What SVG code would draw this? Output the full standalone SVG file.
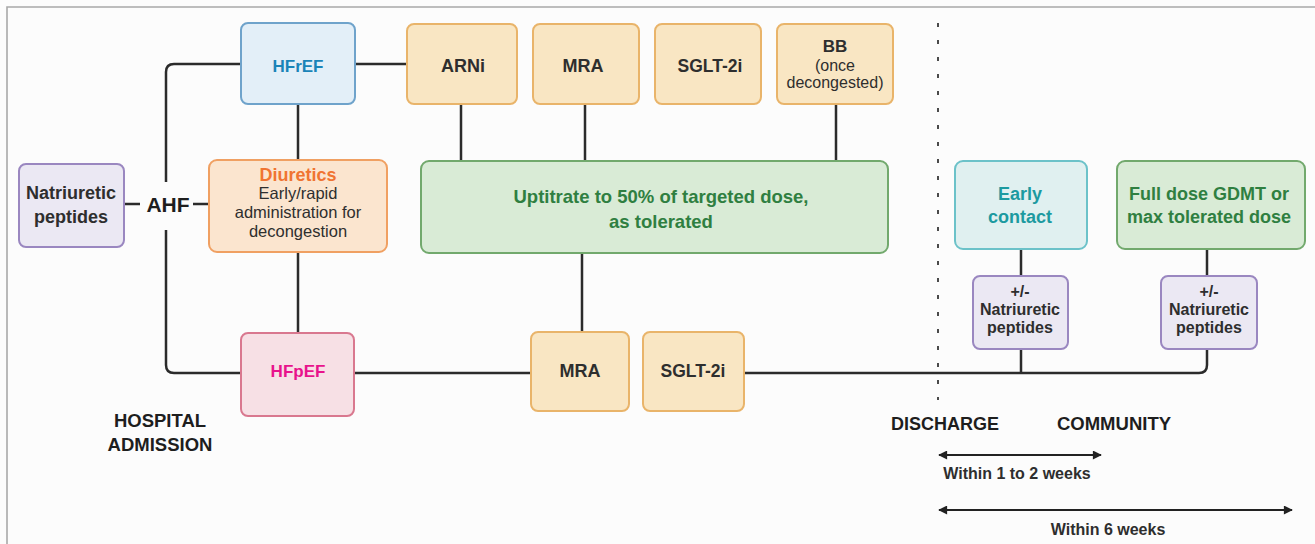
<svg xmlns="http://www.w3.org/2000/svg" width="1315" height="544" viewBox="0 0 1315 544">
  <defs>
    <style>
      text { font-family: "Liberation Sans", Arial, sans-serif; text-anchor: middle; }
      .t { fill: #2e2e2e; font-weight: bold; }
      .r { fill: #2e2e2e; font-weight: normal; }
      .b { fill: #1e1e1e; font-weight: bold; }
      .box { stroke-width: 2; }
      .drug { fill: #f9e6c3; stroke: #e9b46a; }
      .np { fill: #ebe8f3; stroke: #9a87c0; }
      .green { fill: #2f7f41; font-weight: bold; }
      .link { fill: none; stroke: #2b2b2b; stroke-width: 2.5; }
    </style>
    <marker id="ah" viewBox="0 0 10 10" refX="9" refY="5" markerWidth="5" markerHeight="4.5" orient="auto-start-reverse">
      <path d="M0,0 L10,5 L0,10 z" fill="#222"/>
    </marker>
  </defs>

  <!-- page -->
  <rect x="0" y="0" width="1315" height="544" fill="#fcfcfc"/>
  <path d="M7,544 V7 H1315" fill="none" stroke="#a8a8a8" stroke-width="1.6"/>

  <!-- connectors -->
  <g id="connectors">
    <path class="link" d="M241,64 H174 Q166,64 166,72 V182"/>
    <path class="link" d="M166,230 V365 Q166,373 174,373 H241"/>
    <path class="link" d="M124,204 H140"/>
    <path class="link" d="M193,204 H209"/>
    <path class="link" d="M355,64 H407"/>
    <path class="link" d="M298,104 V160"/>
    <path class="link" d="M298,252 V333"/>
    <path class="link" d="M461,104 V161"/>
    <path class="link" d="M585,104 V161"/>
    <path class="link" d="M836,104 V161"/>
    <path class="link" d="M582,253 V332"/>
    <path class="link" d="M354,373 H531"/>
    <path class="link" d="M744,373 H1199 Q1207,373 1207,365 V349"/>
    <path class="link" d="M1021,349 V373"/>
    <path class="link" d="M1021,249 V276"/>
    <path class="link" d="M1207,249 V276"/>
    <!-- discharge divider -->
    <path d="M938,23 V400" fill="none" stroke="#4a4a4a" stroke-width="2" stroke-dasharray="4 13"/>
    <!-- time spans -->
    <path d="M939,455 H1101" fill="none" stroke="#222" stroke-width="2" marker-start="url(#ah)" marker-end="url(#ah)"/>
    <path d="M939,510 H1292" fill="none" stroke="#222" stroke-width="2" marker-start="url(#ah)" marker-end="url(#ah)"/>
  </g>

  <g id="natriuretic-peptides">
    <rect class="box np" x="19" y="164" width="105" height="83" rx="7"/>
    <text class="t" x="71" y="199" font-size="18">Natriuretic</text>
    <text class="t" x="71" y="223" font-size="18">peptides</text>
  </g>

  <g id="ahf">
    <text class="b" x="168" y="212" font-size="21">AHF</text>
  </g>

  <g id="hfref">
    <rect class="box" x="241" y="23" width="114" height="81" rx="7" fill="#e3eff8" stroke="#6fa3cb"/>
    <text x="298" y="72" font-size="17" font-weight="bold" fill="#1a84b8">HFrEF</text>
  </g>

  <g id="diuretics">
    <rect class="box" x="209" y="160" width="178" height="92" rx="8" fill="#fbe5cf" stroke="#f0a062"/>
    <text x="298" y="181" font-size="18" font-weight="bold" fill="#f07432">Diuretics</text>
    <text class="r" x="298" y="199" font-size="16.5">Early/rapid</text>
    <text class="r" x="298" y="218" font-size="16.5">administration for</text>
    <text class="r" x="298" y="237" font-size="16.5">decongestion</text>
  </g>

  <g id="hfpef">
    <rect class="box" x="241" y="333" width="113" height="83" rx="7" fill="#f7e0e5" stroke="#d9788f"/>
    <text x="298" y="377" font-size="17" font-weight="bold" fill="#e8138c">HFpEF</text>
  </g>

  <g id="arni">
    <rect class="box drug" x="407" y="24" width="110" height="80" rx="7"/>
    <text class="t" x="463" y="72" font-size="18">ARNi</text>
  </g>
  <g id="mra-hfref">
    <rect class="box drug" x="533" y="24" width="106" height="80" rx="7"/>
    <text class="t" x="583" y="72" font-size="18">MRA</text>
  </g>
  <g id="sglt2i-hfref">
    <rect class="box drug" x="655" y="24" width="106" height="80" rx="7"/>
    <text class="t" x="710" y="72" font-size="17.5">SGLT-2i</text>
  </g>
  <g id="bb">
    <rect class="box drug" x="777" y="24" width="116" height="80" rx="7"/>
    <text class="t" x="835" y="52" font-size="17">BB</text>
    <text class="r" x="835" y="71" font-size="16">(once</text>
    <text class="r" x="835" y="88" font-size="16">decongested)</text>
  </g>

  <g id="uptitrate">
    <rect class="box" x="421" y="161" width="467" height="92" rx="8" fill="#d9ebd6" stroke="#72a96d"/>
    <text class="green" x="661" y="203" font-size="18.5">Uptitrate to 50% of targeted dose,</text>
    <text class="green" x="661" y="228" font-size="18.5">as tolerated</text>
  </g>

  <g id="mra-hfpef">
    <rect class="box drug" x="531" y="332" width="98" height="79" rx="7"/>
    <text class="t" x="580" y="377" font-size="18">MRA</text>
  </g>
  <g id="sglt2i-hfpef">
    <rect class="box drug" x="643" y="332" width="101" height="79" rx="7"/>
    <text class="t" x="693" y="377" font-size="17.5">SGLT-2i</text>
  </g>

  <g id="early-contact">
    <rect class="box" x="955" y="161" width="132" height="88" rx="8" fill="#e0f0f0" stroke="#6cc2c9"/>
    <text x="1020" y="200" font-size="18" font-weight="bold" fill="#1c9aa0">Early</text>
    <text x="1020" y="223" font-size="18" font-weight="bold" fill="#1c9aa0">contact</text>
  </g>

  <g id="full-dose">
    <rect class="box" x="1117" y="161" width="188" height="88" rx="8" fill="#d9ebd6" stroke="#72a96d"/>
    <text class="green" x="1209" y="200" font-size="18">Full dose GDMT or</text>
    <text class="green" x="1209" y="223" font-size="18">max tolerated dose</text>
  </g>

  <g id="np-early">
    <rect class="box np" x="973" y="276" width="95" height="73" rx="7"/>
    <text class="t" x="1020" y="297" font-size="16">+/-</text>
    <text class="t" x="1020" y="315" font-size="16">Natriuretic</text>
    <text class="t" x="1020" y="333" font-size="16">peptides</text>
  </g>

  <g id="np-full">
    <rect class="box np" x="1161" y="276" width="96" height="73" rx="7"/>
    <text class="t" x="1209" y="297" font-size="16">+/-</text>
    <text class="t" x="1209" y="315" font-size="16">Natriuretic</text>
    <text class="t" x="1209" y="333" font-size="16">peptides</text>
  </g>

  <g id="phase-labels">
    <text class="b" x="160" y="427" font-size="18.5">HOSPITAL</text>
    <text class="b" x="160" y="451" font-size="18.5">ADMISSION</text>
    <text class="b" x="945" y="430" font-size="18">DISCHARGE</text>
    <text class="b" x="1114" y="430" font-size="18.5">COMMUNITY</text>
    <text class="t" x="1017" y="479" font-size="16">Within 1 to 2 weeks</text>
    <text class="t" x="1108" y="535" font-size="16">Within 6 weeks</text>
  </g>
</svg>
